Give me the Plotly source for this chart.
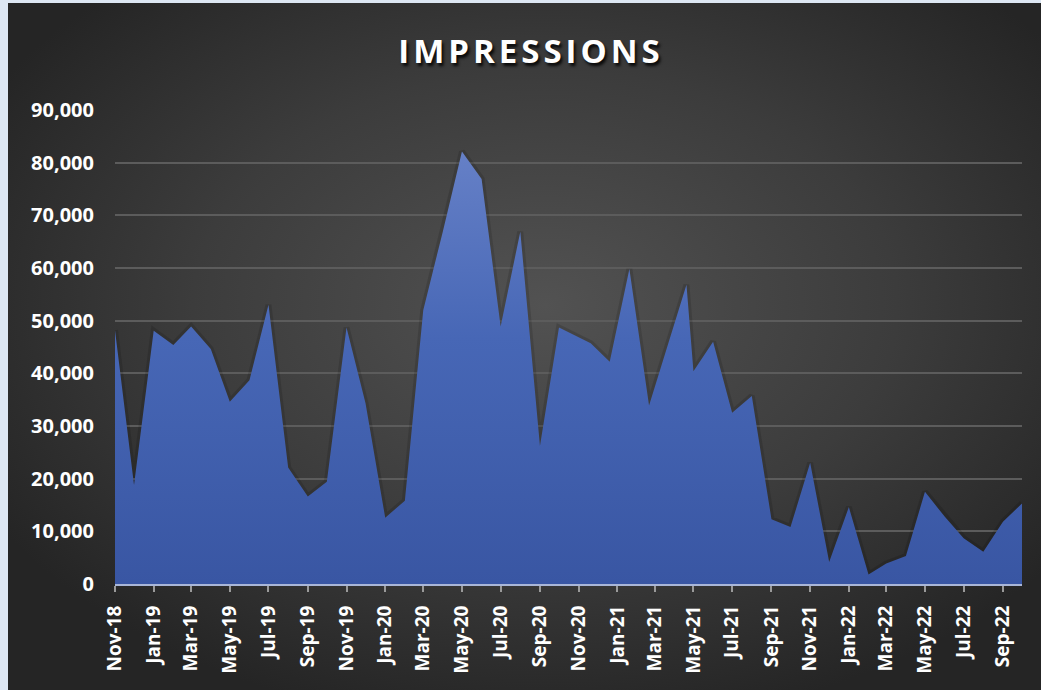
import base64
import plotly.graph_objects as go

# ---- data ----
dates = [
    "2018-11-01", "2018-12-01", "2019-01-01", "2019-02-01", "2019-03-01", "2019-04-01",
    "2019-05-01", "2019-06-01", "2019-07-01", "2019-08-01", "2019-09-01", "2019-10-01",
    "2019-11-01", "2019-12-01", "2020-01-01", "2020-02-01", "2020-03-01", "2020-04-01",
    "2020-05-01", "2020-06-01", "2020-07-01", "2020-08-01", "2020-09-01", "2020-10-01",
    "2020-11-20", "2020-12-20", "2021-01-20", "2021-02-20", "2021-04-20", "2021-05-01",
    "2021-06-01", "2021-07-01", "2021-08-01", "2021-09-01", "2021-10-01", "2021-11-01",
    "2021-12-01", "2022-01-01", "2022-02-01", "2022-03-01", "2022-04-01", "2022-05-01",
    "2022-06-01", "2022-07-01", "2022-08-01", "2022-09-01", "2022-10-01",
]
impressions = [
    48200, 18800, 48100, 45400, 48900, 44600,
    34600, 38700, 53000, 22100, 16600, 19400,
    48700, 34300, 12600, 15800, 52000, 67000,
    82100, 76900, 48900, 66900, 26200, 48700,
    45700, 42200, 59800, 33900, 56800, 40400,
    46000, 32500, 35700, 12300, 10800, 23000,
    4200, 14600, 1800, 3900, 5300, 17500,
    12800, 8700, 6100, 11800, 15300,
]
title_text = "IMPRESSIONS"
y_ticks = [0, 10000, 20000, 30000, 40000, 50000, 60000, 70000, 80000, 90000]

W, H = 1041, 690
ML, MR, MT, MB = 115, 19, 110, 106
pw, ph = W - ML - MR, H - MT - MB

# dark radial-gradient background panel (as inline SVG image)
bx0, by0 = 8, 3
bw, bh = W - bx0, H - by0
svg = f'''<svg xmlns="http://www.w3.org/2000/svg" width="{bw}" height="{bh}" viewBox="0 0 {bw} {bh}" preserveAspectRatio="none">
<defs><radialGradient id="g" cx="0.52" cy="0.44" r="0.62" gradientUnits="objectBoundingBox">
<stop offset="0" stop-color="#525252"/><stop offset="0.55" stop-color="#3c3c3c"/><stop offset="1" stop-color="#252525"/>
</radialGradient></defs>
<rect x="0" y="0" width="{bw}" height="{bh}" fill="url(#g)"/></svg>'''
src = "data:image/svg+xml;base64," + base64.b64encode(svg.encode()).decode()

fig = go.Figure()

# soft shadow under the area edge
fig.add_trace(go.Scatter(
    x=dates, y=impressions, mode="lines",
    line=dict(color="rgba(0,0,0,0.13)", width=6),
    hoverinfo="skip", showlegend=False,
))
fig.add_trace(go.Scatter(
    x=dates, y=impressions, mode="lines", fill="tozeroy",
    line=dict(color="rgba(0,0,0,0)", width=0),
    fillgradient=dict(type="vertical", start=0, stop=85000,
                      colorscale=[[0, "#3956a3"], [0.55, "#4767b6"], [1, "#6882c8"]]),
    showlegend=False, name="Impressions",
))

fig.update_layout(
    width=W, height=H,
    margin=dict(l=ML, r=MR, t=MT, b=MB),
    paper_bgcolor="#dde7f3",
    plot_bgcolor="rgba(0,0,0,0)",
    showlegend=False,
    title=dict(
        text=title_text, x=531 / W, xref="container", xanchor="center",
        y=1 - 51 / H, yref="container", yanchor="middle",
        font=dict(family="Open Sans", size=33, color="white", weight="bold",
                  shadow="2px 3px 3px rgba(0,0,0,0.85)"),
    ),
    images=[dict(
        source=src, xref="paper", yref="paper",
        x=(bx0 - ML) / pw, y=(H - MB - by0) / ph,
        sizex=bw / pw, sizey=bh / ph,
        xanchor="left", yanchor="top", sizing="stretch", layer="below",
    )],
    xaxis=dict(
        type="date", range=[dates[0], dates[-1]],
        tick0="2018-11-01", dtick="M2", tickformat="%b-%y", tickangle=-90,
        ticks="outside", ticklen=6, tickwidth=2, tickcolor="#9a9a9a",
        showline=True, linecolor="#a9b6d8", linewidth=2,
        showgrid=False, zeroline=False,
        tickfont=dict(family="Open Sans", size=19, color="white", weight="bold"),
        ticklabelstandoff=6,
    ),
    yaxis=dict(
        range=[0, 90000], tickvals=y_ticks, tickformat=",",
        showgrid=True, gridcolor="#5c5c5c", gridwidth=1.5,
        zeroline=False, showline=False, ticks="",
        tickfont=dict(family="Open Sans", size=20, color="white", weight="bold"),
        ticklabelstandoff=20,
    ),
)

post = (
    "document.body.style.margin='0px';"
    "document.body.style.background='#dde7f3';"
    "var t=document.querySelector('.gtitle');"
    "if(t){t.style.letterSpacing='4px';}"
)
fig.write_html("out.html", post_script=post, config={"displayModeBar": False})
